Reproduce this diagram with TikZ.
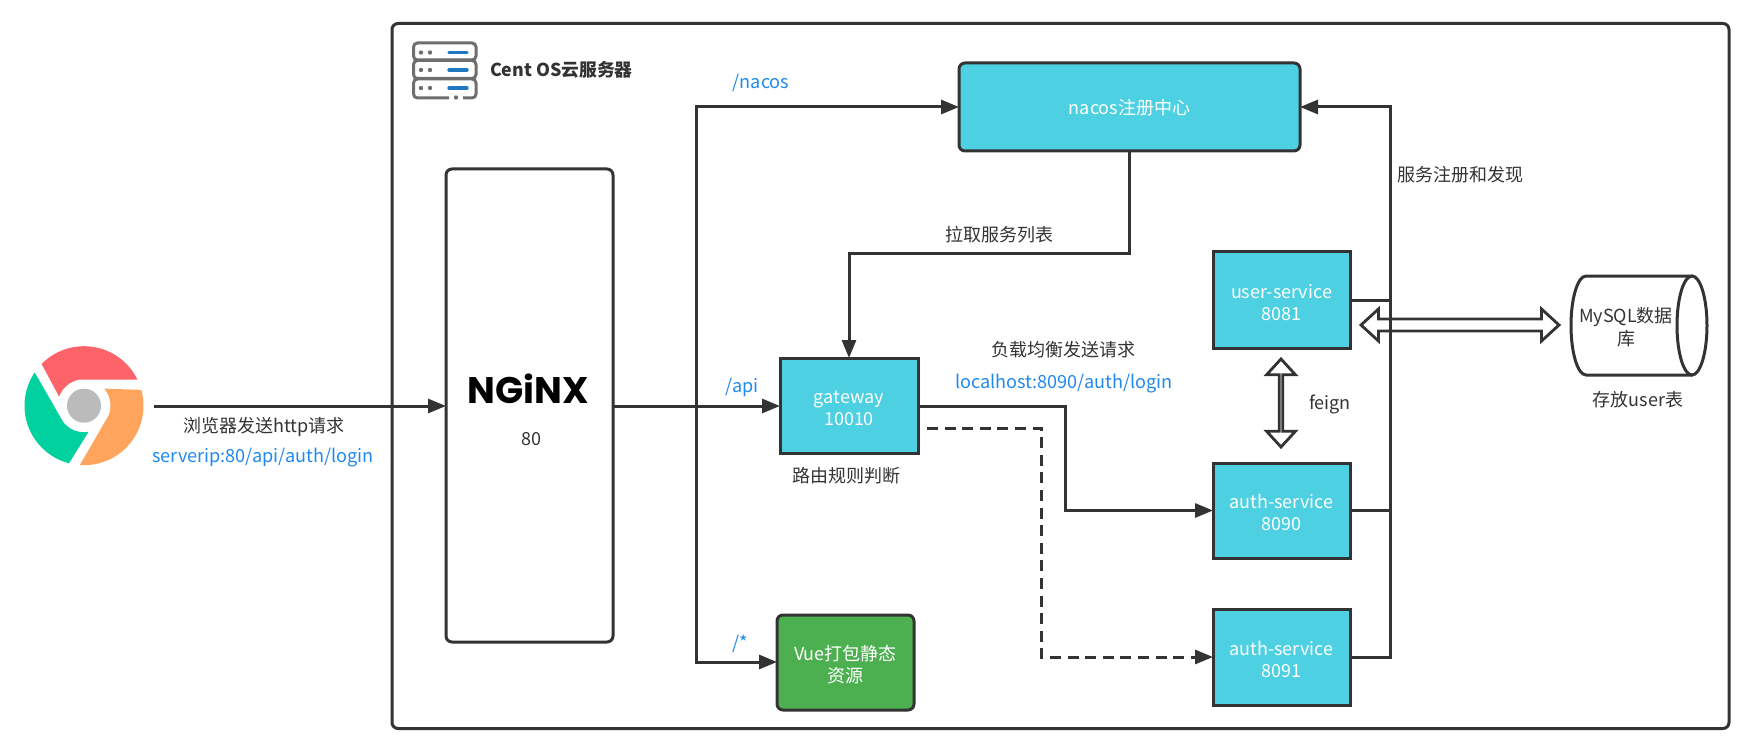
\documentclass[tikz,border=0pt]{standalone}
\usepackage{fontspec}
\setmainfont{Noto Sans CJK SC}
\newfontfamily\logofont{Poppins}[BoldFont=* Bold]
\usetikzlibrary{arrows.meta,shapes.geometric,shapes.arrows,calc}
\definecolor{edgec}{HTML}{333333}
\definecolor{cyanf}{HTML}{4DD0E1}
\definecolor{greenf}{HTML}{4CAF50}
\definecolor{bluet}{HTML}{2088EE}
\definecolor{iconc}{HTML}{6E6E6E}
\definecolor{iconb}{HTML}{1E78C2}
\newcommand\boxstrut{\rule{0pt}{9.2pt}}
\tikzset{
  x=0.5pt,y=-0.5pt,
  every node/.style={font=\fontsize{9}{11.2}\selectfont,text=edgec,align=center,inner sep=0pt,outer sep=0pt,text depth=0pt},
  boxc/.style={draw=edgec,line width=1.5pt,fill=#1,text=white,anchor=north west},
  link/.style={draw=edgec,line width=1.5pt,-{Triangle[length=9pt,width=7pt]}},
  plainlink/.style={draw=edgec,line width=1.5pt},
  bluelabel/.style={text=bluet,font=\fontsize{9.05}{11.2}\selectfont},
  dbl/.style={draw=edgec,line width=1.4pt,double arrow,inner ysep=2.3pt,inner xsep=0pt,double arrow head extend=5pt,double arrow tip angle=85,minimum width=14.5pt}
}
\begin{document}
\begin{tikzpicture}
\useasboundingbox (0,0) rectangle (1753,749);
% frame
\node[draw=edgec,line width=1.5pt,rounded corners=3pt,anchor=north west,minimum width=668.5pt,minimum height=352.5pt] (frame) at (392,23.5) {};
% server icon
\begin{scope}[line width=1.5pt]
\draw[iconc,rounded corners=2pt] (413.5,43) rectangle (476,60);
\draw[iconc,rounded corners=2pt] (413.5,60.5) rectangle (476,78.5);
\draw[iconc,rounded corners=2pt] (449,98) -- (413.5,98) -- (413.5,79) -- (476,79) -- (476,98) -- (463,98);
\foreach \yy in {52.5,70,88}{
  \fill[iconc] (421,\yy) circle (1.1pt) (430,\yy) circle (1.1pt);
  \draw[iconb,line cap=round,line width=1.7pt] (449,\yy) -- (467,\yy);
}
\fill[iconc] (456,97.5) circle (1.1pt);
\end{scope}
\node[anchor=west,font=\fontsize{8.9}{12}\selectfont\bfseries] (title) at (490,69) {Cent OS云服务器};
% chrome icon
\begin{scope}[shift={(84,405.7)},x=0.5pt,y=0.5pt]
\fill[fill={rgb,255:red,255;green,99;blue,106}] (135.4:59.5) arc[start angle=135.4,end angle=26,radius=59.5] -- (99:26.5) arc[start angle=99,end angle=160,radius=26.5] -- cycle;
\fill[fill={rgb,255:red,255;green,164;blue,92},rotate=-120] (135.4:59.5) arc[start angle=135.4,end angle=26,radius=59.5] -- (99:26.5) arc[start angle=99,end angle=160,radius=26.5] -- cycle;
\fill[fill={rgb,255:red,0;green,209;blue,159},rotate=-240] (135.4:59.5) arc[start angle=135.4,end angle=26,radius=59.5] -- (99:26.5) arc[start angle=99,end angle=160,radius=26.5] -- cycle;
\fill[fill={rgb,255:red,187;green,187;blue,187}] (0,0) circle[radius=17];
\end{scope}
\coordinate (browser) at (153.5,406);
% boxes
\node[draw=edgec,line width=1.5pt,rounded corners=3pt,anchor=north west,minimum width=83.5pt,minimum height=236.5pt] (nginx) at (446,169) {};
\node[font=\fontsize{18.5}{20}\selectfont\logofont\bfseries,text=black] (nginxlogo) at (528,389) {NGiNX};
\node (port) at (531,439) {80};
\node[boxc=cyanf,rounded corners=3pt,minimum width=170.5pt,minimum height=44pt] (nacos) at (959,63) {nacos注册中心};
\node[boxc=cyanf,minimum width=69pt,minimum height=47.5pt] (gateway) at (780,358) {\boxstrut gateway\\10010};
\node[boxc=greenf,rounded corners=3pt,minimum width=68.5pt,minimum height=47.5pt] (vue) at (777,615) {\boxstrut Vue打包静态\\资源};
\node[boxc=cyanf,minimum width=68.5pt,minimum height=48pt] (user) at (1213,252) {\boxstrut user-service\\8081};
\node[boxc=cyanf,minimum width=68.5pt,minimum height=47.5pt] (auth1) at (1213,463) {\boxstrut auth-service\\8090};
\node[boxc=cyanf,minimum width=68.5pt,minimum height=48pt] (auth2) at (1213,609) {\boxstrut auth-service\\8091};
% database cylinder
\draw[draw=edgec,line width=1.5pt] (1692,276) -- (1586,276) arc[start angle=90,end angle=270,x radius=7.5pt,y radius=24.75pt] -- (1692,375);
\draw[draw=edgec,line width=1.5pt] (1692,325.5) ellipse[x radius=7.5pt,y radius=24.75pt];
\node (mysql) at (1626,326.5) {MySQL数据\\库};
% connectors
\coordinate (bus) at (696,406);
\coordinate (busnacos) at (696,107);
\coordinate (busvue) at (696,662);
\draw[link] (browser) -- (browser -| nginx.west);
\draw[link] (bus -| nginx.east) -- (bus -| gateway.west);
\draw[link] (bus) -- (busnacos) -- (busnacos -| nacos.west);
\draw[link] (bus) -- (busvue) -- (busvue -| vue.west);
\coordinate (gwout) at (gateway.east |- bus);
\coordinate (a1in) at (1213,510.5);
\draw[link] (gwout) -| (1065,510.5) -- (a1in -| auth1.west);
\coordinate (a2in) at (1213,657);
\coordinate (dashstart) at (927,428);
\draw[link,dash pattern=on 5.5pt off 3.3pt] (dashstart) -| (1041,657) -- (a2in -| auth2.west);
\draw[link] (1129,151) -- (1129,254) -| (849,358);
\coordinate (busr) at (1390,107);
\draw[plainlink] (user.east |- 0,300) -- (1390,300);
\draw[plainlink] (auth1.east |- 0,510.5) -- (1390,510.5);
\draw[link] (auth2.east |- 0,657) -- (1390,657) -- (busr) -- (busr -| nacos.east);
\node[dbl,minimum height=99pt] (dbh) at (1460,325) {};
\node[dbl,minimum height=44pt,shape border rotate=90] (dbv) at (1281,403) {};
% labels
\node[bluelabel] (l1) at (761,81) {/nacos};
\node[bluelabel] (l2) at (742,385) {/api};
\node[bluelabel] (l3) at (740,642) {/*};
\node (l4) at (999,234) {拉取服务列表};
\node (l5) at (1460,174) {服务注册和发现};
\node (l6) at (1063,349) {负载均衡发送请求};
\node[bluelabel] (l7) at (1064,381) {localhost:8090/auth/login};
\node (l8) at (846,475) {路由规则判断};
\node (l9) at (1330,402) {feign};
\node (l10) at (1638,399) {存放user表};
\node (l11) at (264,425) {浏览器发送http请求};
\node[bluelabel] (l12) at (263,455) {serverip:80/api/auth/login};
\end{tikzpicture}
\end{document}
